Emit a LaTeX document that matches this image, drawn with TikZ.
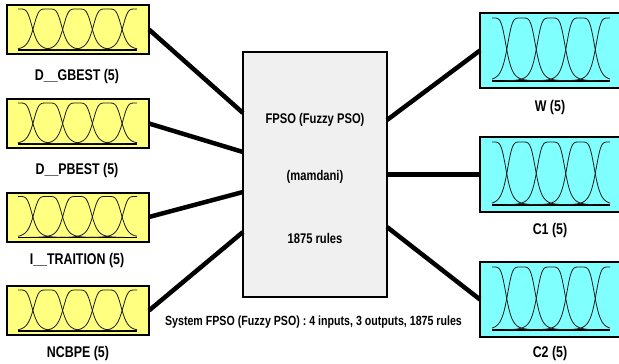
\documentclass[tikz,border=0pt]{standalone}
\usepackage{fontspec}
\setmainfont{Liberation Sans}[FakeStretch=0.8]
\definecolor{inyel}{HTML}{FFFF80}
\definecolor{outcy}{HTML}{80FFFF}
\definecolor{fisgr}{HTML}{F0F0F0}
\definecolor{mfcol}{HTML}{1A1A1A}
\tikzset{
  declare function={mf(\t)=1/(1+(\t*\t)*(\t*\t)*abs(\t));},
  inbox/.style={draw,line width=2pt,fill=inyel,minimum width=142pt,minimum height=49pt,inner sep=0pt,outer sep=0pt},
  outbox/.style={draw,line width=2pt,fill=outcy,minimum width=142pt,minimum height=75pt,inner sep=0pt,outer sep=0pt},
  fisbox/.style={draw,line width=2pt,fill=fisgr,minimum width=144pt,minimum height=245pt,inner sep=0pt,outer sep=0pt},
  lab/.style={font=\fontsize{15.5}{17}\selectfont\bfseries,inner sep=0pt},
  ctext/.style={font=\fontsize{14}{16}\selectfont\bfseries,inner sep=0pt},
  captext/.style={font=\fontsize{13.3}{15}\selectfont\bfseries,inner sep=0pt},
  conn/.style={line width=4.5pt},
  mfline/.style={draw=mfcol,line width=0.8pt}
}
\newcommand\mfpanel[4]{%
  \draw[line width=1.8pt] (#1,#4) -- (#2,#4);
  \foreach \k in {0,...,4}{
    \pgfmathsetmacro\dd{(#2-#1)/4}
    \pgfmathsetmacro\cc{#1+\k*\dd}
    \pgfmathsetmacro\lo{max(#1,\cc-1.6*\dd)}
    \pgfmathsetmacro\hi{min(#2,\cc+1.6*\dd)}
    \draw[mfline] plot[domain=\lo:\hi,samples=60,smooth] (\x,{#4-(#4-#3)*mf((\x-\cc)/\dd*2)});
  }}
\begin{document}
\begin{tikzpicture}[x=1pt,y=-1pt]
\useasboundingbox (0,0) rectangle (619,364);
% central FIS box
\node[fisbox] (fis) at (315,174.5) {};
\node[ctext] (t1) at (315,120) {FPSO (Fuzzy PSO)};
\node[ctext] (t2) at (315,177) {(mamdani)};
\node[ctext] (t3) at (315,238) {1875 rules};
\node[captext] (cap) at (313.5,322) {System FPSO (Fuzzy PSO) : 4 inputs, 3 outputs, 1875 rules};
% inputs
\node[inbox] (in1) at (78,29.5) {};
\node[inbox] (in2) at (78,123.5) {};
\node[inbox] (in3) at (78,217) {};
\node[inbox] (in4) at (78,310.5) {};
\mfpanel{18}{137}{9}{50}
\mfpanel{18}{137}{103}{144}
\mfpanel{18}{137}{196.5}{237.5}
\mfpanel{18}{137}{290}{331}
\node[lab] (l1) at (77,76) {D\_\_GBEST (5)};
\node[lab] (l2) at (77,170) {D\_\_PBEST (5)};
\node[lab] (l3) at (77,260) {I\_\_TRAITION (5)};
\node[lab] (l4) at (78,353) {NCBPE (5)};
% outputs
\node[outbox] (o1) at (551,50.5) {};
\node[outbox] (o2) at (551,174.5) {};
\node[outbox] (o3) at (551,299.5) {};
\mfpanel{492}{610}{18}{81}
\mfpanel{492}{610}{142}{205}
\mfpanel{492}{610}{267}{330}
\node[lab] (r1) at (550,107) {W (5)};
\node[lab] (r2) at (550,230) {C1 (5)};
\node[lab] (r3) at (550,353) {C2 (5)};
% connectors
\draw[conn] (in1.east) -- ([yshift=61.5pt]fis.west);
\draw[conn] (in2.east) -- ([yshift=22.5pt]fis.west);
\draw[conn] (in3.east) -- ([yshift=-17.5pt]fis.west);
\draw[conn] (in4.east) -- ([yshift=-57.5pt]fis.west);
\draw[conn] ([yshift=54.5pt]fis.east) -- (o1.west);
\draw[conn,line width=5pt] (fis.east) -- (o2.west);
\draw[conn] ([yshift=-52.5pt]fis.east) -- (o3.west);
\end{tikzpicture}
\end{document}
